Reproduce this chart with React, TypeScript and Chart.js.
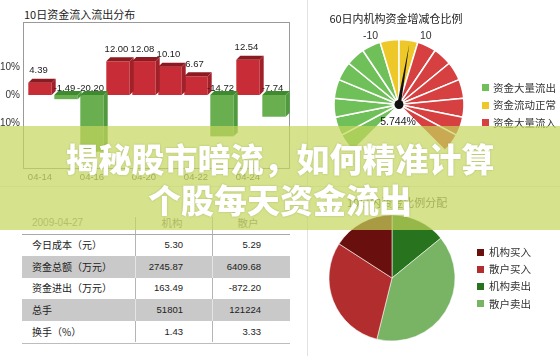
import React, { useEffect, useRef } from "react";
import { Chart, registerables } from "chart.js";

Chart.register(...registerables);

// ---------- data ----------
const flowTitle = "10日资金流入流出分布";
const flowDates = ["04-14", "04-15", "04-16", "04-17", "04-20", "04-21", "04-22", "04-23", "04-24", "04-27"];
const flowValues = [4.39, -1.49, -20.2, 12.0, 12.08, 10.1, 6.67, -14.72, 12.54, -7.74];
const flowTicks = [-10, 0, 10];

const gaugeTitle = "60日内机构资金增减仓比例";
const gaugeBounds = [-80, -70, -60, -50, -40, -30, -20, -10, 0, 10, 20, 30, 40, 50, 60, 70, 80];
const gaugeSegments = [10, 10, 10, 10, 10, 10, 10, 10, 10, 10, 10, 10, 10, 10, 10, 10];
const gaugeSegmentZone = [0, 0, 0, 0, 0, 0, 0, 1, 1, 2, 2, 2, 2, 2, 2, 2];
const gaugeZoneLabels = ["资金大量流出", "资金流动正常", "资金大量流入"];
const gaugeTickValues = [-10, 10];
const gaugeValue = 5.744;

const pieTitle = "10日内资金比例分配";
const pieLabels = ["机构买入", "散户买入", "机构卖出", "散户卖出"];
const pieValues = [1454.68, 2768.74, 1291.19, 3640.94];
const pieDrawOrder = [2, 3, 1, 0];

const tableDate = "2009-04-27";
const tableCols = ["机构", "散户"];
const tableRowLabels = ["今日成本（元）", "资金总额（万元）", "资金进出（万元）", "总手", "换手（%）"];
const tableInst = ["5.30", "2745.87", "163.49", "51801", "1.43"];
const tableRetail = ["5.29", "6409.68", "-872.20", "121224", "3.33"];

const bannerLines = ["揭秘股市暗流，如何精准计算", "个股每天资金流出"];

// ---------- styles ----------
const NUM = "'Liberation Sans', Arial, 'Noto Sans CJK SC', sans-serif";
const CJK = "'Noto Sans CJK SC', 'Liberation Sans', sans-serif";
const RED = { front: "#c82d37", top: "#8c1a20", side: "#a02129" };
const GREEN = { front: "#69af50", top: "#3e8a2e", side: "#4f9a3c" };
const gaugeZoneColors = ["#70c05a", "#eec828", "#d64040"];
const pieColors = ["#69100f", "#b22d2d", "#28731e", "#78b464"];

const framePlugin = {
  id: "frame",
  beforeDatasetsDraw(chart: any) {
    const { ctx, chartArea: a } = chart;
    ctx.save();
    ctx.strokeStyle = "#9a9a9a";
    ctx.lineWidth = 1;
    ctx.strokeRect(Math.round(a.left - 4) + 0.5, Math.round(a.top) + 0.5, Math.round(a.right - a.left + 6), Math.round(a.bottom - a.top));
    ctx.restore();
  },
};

const bar3dPlugin = {
  id: "bar3d",
  afterDatasetsDraw(chart: any) {
    const { ctx } = chart;
    const meta = chart.getDatasetMeta(0);
    const d = 4;
    ctx.save();
    meta.data.forEach((bar: any, i: number) => {
      const { x, y, base, width } = bar.getProps(["x", "y", "base", "width"], true);
      const v = flowValues[i];
      const c = v >= 0 ? RED : GREEN;
      const l = x - width / 2;
      const r = x + width / 2;
      const top = Math.min(y, base);
      const bot = Math.max(y, base);
      ctx.fillStyle = c.top;
      ctx.beginPath();
      ctx.moveTo(l, top);
      ctx.lineTo(l + d, top - d);
      ctx.lineTo(r + d, top - d);
      ctx.lineTo(r, top);
      ctx.closePath();
      ctx.fill();
      ctx.fillStyle = c.side;
      ctx.beginPath();
      ctx.moveTo(r, top);
      ctx.lineTo(r + d, top - d);
      ctx.lineTo(r + d, bot - d);
      ctx.lineTo(r, bot);
      ctx.closePath();
      ctx.fill();
      ctx.fillStyle = "#222";
      ctx.font = `9.5px ${NUM}`;
      ctx.textAlign = "center";
      ctx.textBaseline = "middle";
      ctx.fillText(v.toFixed(2), x - 1.5, v >= 0 ? y - 12 : base - 6.5);
    });
    ctx.restore();
  },
};

const gaugePlugin = {
  id: "gaugeNeedle",
  afterDatasetsDraw(chart: any) {
    const { ctx } = chart;
    const meta = chart.getDatasetMeta(0);
    const first = meta.data[0];
    const last = meta.data[meta.data.length - 1];
    const cx = first.x;
    const cy = first.y;
    const start = first.startAngle;
    const end = last.endAngle;
    const lo = gaugeBounds[0];
    const hi = gaugeBounds[gaugeBounds.length - 1];
    const toAngle = (v: number) => start + ((v - lo) / (hi - lo)) * (end - start);
    ctx.save();
    // tick labels
    ctx.fillStyle = "#333";
    ctx.font = `10.5px ${NUM}`;
    ctx.textBaseline = "middle";
    gaugeTickValues.forEach((v) => {
      const a = toAngle(v);
      ctx.textAlign = v < 0 ? "right" : "left";
      ctx.fillText(String(v), cx + Math.cos(a) * 72, cy + Math.sin(a) * 72);
    });
    // needle
    const a = toAngle(gaugeValue);
    const len = 61;
    const hw = 1.8;
    ctx.fillStyle = "#111";
    ctx.beginPath();
    ctx.moveTo(cx + Math.cos(a) * len, cy + Math.sin(a) * len);
    ctx.lineTo(cx + Math.cos(a + Math.PI / 2) * hw, cy + Math.sin(a + Math.PI / 2) * hw);
    ctx.lineTo(cx + Math.cos(a - Math.PI / 2) * hw, cy + Math.sin(a - Math.PI / 2) * hw);
    ctx.closePath();
    ctx.fill();
    ctx.beginPath();
    ctx.arc(cx, cy, 4.5, 0, Math.PI * 2);
    ctx.fill();
    // value
    ctx.fillStyle = "#222";
    ctx.font = `10.5px ${NUM}`;
    ctx.textAlign = "center";
    ctx.fillText(`${gaugeValue}%`, cx - 1, cy + 18);
    ctx.restore();
  },
};

function useChart(ref: React.RefObject<HTMLCanvasElement | null>, make: () => any) {
  useEffect(() => {
    if (!ref.current) return;
    const chart = new Chart(ref.current, make());
    return () => chart.destroy();
  }, []);
}

const base = { responsive: false, animation: false as const, devicePixelRatio: 1 };

function Legend({ items, colors, left, top, step, size, gap }: any) {
  return (
    <>
      {items.map((t: string, i: number) => (
        <div key={t} style={{ position: "absolute", left, top: top + i * step - 7, height: 14, display: "flex", alignItems: "center" }}>
          <span style={{ width: size, height: size, background: colors[i], display: "inline-block", marginRight: gap }} />
          <span style={{ font: `10.5px ${CJK}`, color: "#333", lineHeight: "14px" }}>{t}</span>
        </div>
      ))}
    </>
  );
}

export default function App() {
  const barRef = useRef<HTMLCanvasElement>(null);
  const gaugeRef = useRef<HTMLCanvasElement>(null);
  const pieRef = useRef<HTMLCanvasElement>(null);

  useChart(barRef, () => ({
    type: "bar",
    data: {
      labels: flowDates,
      datasets: [
        {
          data: flowValues,
          backgroundColor: flowValues.map((v) => (v >= 0 ? RED.front : GREEN.front)),
          borderWidth: 0,
          barPercentage: 0.9,
          categoryPercentage: 1,
        },
      ],
    },
    options: {
      ...base,
      layout: { padding: { top: 22, right: 13, bottom: 0, left: 0 } },
      plugins: { legend: { display: false }, tooltip: { enabled: false }, title: { display: false } },
      scales: {
        x: {
          grid: { display: false, drawTicks: false },
          border: { display: false },
          ticks: {
            autoSkip: false,
            maxRotation: 0,
            padding: 4,
            color: "#555",
            font: { size: 9.5, family: NUM },
            callback: (_v: any, i: number) => (i % 2 === 0 ? flowDates[i] : ""),
          },
          afterFit: (s: any) => {
            s.height = 18;
          },
        },
        y: {
          min: -26,
          max: 26,
          grid: { display: false, drawTicks: false },
          border: { display: false },
          ticks: { padding: 7, color: "#333", font: { size: 10, family: NUM }, callback: (v: any) => `${v}%` },
          afterBuildTicks: (s: any) => {
            s.ticks = flowTicks.map((value) => ({ value }));
          },
          afterFit: (s: any) => {
            s.width = 27;
          },
        },
      },
    },
    plugins: [framePlugin, bar3dPlugin],
  }));

  useChart(gaugeRef, () => ({
    type: "doughnut",
    data: {
      labels: gaugeSegments.map((_, i) => `${gaugeBounds[i]}~${gaugeBounds[i + 1]}`),
      datasets: [
        {
          data: gaugeSegments,
          backgroundColor: gaugeSegmentZone.map((z) => gaugeZoneColors[z]),
          borderColor: "#ffffff",
          borderWidth: 1.5,
        },
      ],
    },
    options: {
      ...base,
      rotation: -135,
      circumference: 270,
      cutout: 0,
      radius: 65,
      layout: { padding: 0 },
      plugins: { legend: { display: false }, tooltip: { enabled: false } },
    },
    plugins: [gaugePlugin],
  }));

  useChart(pieRef, () => ({
    type: "pie",
    data: {
      labels: pieDrawOrder.map((i) => pieLabels[i]),
      datasets: [
        {
          data: pieDrawOrder.map((i) => pieValues[i]),
          backgroundColor: pieDrawOrder.map((i) => pieColors[i]),
          borderColor: "rgba(255,255,255,0.55)",
          borderWidth: 1,
        },
      ],
    },
    options: {
      ...base,
      rotation: 0,
      radius: 63,
      layout: { padding: 0 },
      plugins: { legend: { display: false }, tooltip: { enabled: false } },
    },
  }));

  const rowTop = 233.5;
  const rowH = 21.6;

  return (
    <div style={{ position: "fixed", left: 0, top: 0, width: 560, height: 356, background: "#fff", overflow: "hidden" }}>
      {/* separators */}
      <div style={{ position: "absolute", left: 307, top: 0, width: 1, height: 356, background: "#e2e2e2" }} />
      <div style={{ position: "absolute", left: 0, top: 186, width: 560, height: 1, background: "#e6e6e6" }} />

      {/* bar chart */}
      <div style={{ position: "absolute", left: 24, top: 7, font: `11px ${CJK}`, lineHeight: "14px", color: "#222", whiteSpace: "nowrap" }}>{flowTitle}</div>
      <canvas ref={barRef} width={300} height={186} style={{ position: "absolute", left: 0, top: 0, width: 300, height: 186 }} />

      {/* gauge */}
      <div style={{ position: "absolute", left: 296, width: 200, top: 11, textAlign: "center", font: `11px ${CJK}`, lineHeight: "14px", color: "#222", whiteSpace: "nowrap" }}>{gaugeTitle}</div>
      <canvas ref={gaugeRef} width={180} height={150} style={{ position: "absolute", left: 309, top: 20, width: 180, height: 150 }} />
      <Legend items={gaugeZoneLabels} colors={gaugeZoneColors} left={482} top={87.5} step={17.5} size={7} gap={4} />

      {/* table */}
      <div style={{ position: "absolute", left: 32, top: 216, font: `10px ${NUM}`, lineHeight: "14px", color: "#8a8a8a" }}>{tableDate}</div>
      {tableCols.map((c, i) => (
        <div key={c} style={{ position: "absolute", left: i === 0 ? 152 : 228, width: 40, textAlign: "center", top: 216, font: `10.5px ${CJK}`, lineHeight: "14px", color: "#777" }}>{c}</div>
      ))}
      <div style={{ position: "absolute", left: 135, top: 217, width: 1, height: 17, background: "#b5b5b5" }} />
      <div style={{ position: "absolute", left: 212, top: 217, width: 1, height: 17, background: "#b5b5b5" }} />
      <div style={{ position: "absolute", left: 22, top: rowTop, width: 268, height: 1, background: "#a8a8a8" }} />
      {tableRowLabels.map((lab, i) => {
        const gray = i % 2 === 1;
        const top = rowTop + 1 + i * rowH;
        const sep = gray ? "#e4e4e4" : "#b5b5b5";
        return (
          <div key={lab} style={{ position: "absolute", left: 22, top, width: 268, height: rowH, background: gray ? "#c9c9c9" : "transparent" }}>
            <div style={{ position: "absolute", left: 113, top: 0, width: 1, height: rowH, background: sep }} />
            <div style={{ position: "absolute", left: 190, top: 0, width: 1, height: rowH, background: sep }} />
            <div style={{ position: "absolute", left: 10, top: rowH / 2 - 7, font: `10px ${CJK}`, lineHeight: "14px", color: "#222", whiteSpace: "nowrap" }}>{lab}</div>
            <div style={{ position: "absolute", right: 268 - 161, top: rowH / 2 - 7, font: `9.5px ${NUM}`, lineHeight: "14px", color: "#222" }}>{tableInst[i]}</div>
            <div style={{ position: "absolute", right: 268 - 239, top: rowH / 2 - 7, font: `9.5px ${NUM}`, lineHeight: "14px", color: "#222" }}>{tableRetail[i]}</div>
          </div>
        );
      })}
      <div style={{ position: "absolute", left: 22, top: rowTop + 1 + 5 * rowH, width: 268, height: 1, background: "#bdbdbd" }} />

      {/* pie */}
      <div style={{ position: "absolute", left: 347, top: 195, font: `11px ${CJK}`, lineHeight: "14px", color: "#555", whiteSpace: "nowrap" }}>{pieTitle}</div>
      <canvas ref={pieRef} width={140} height={140} style={{ position: "absolute", left: 322, top: 208, width: 140, height: 140 }} />
      <Legend items={pieLabels} colors={pieColors} left={477} top={252} step={17.2} size={7} gap={5} />

      {/* banner */}
      <div style={{ position: "absolute", left: 0, top: 126, width: 560, height: 104, background: "rgba(196,214,91,0.7)" }} />
      {bannerLines.map((t, i) => (
        <div
          key={t}
          style={{
            position: "absolute",
            left: 0,
            width: 560,
            top: i === 0 ? 138 : 179,
            textAlign: "center",
            font: `900 33px ${CJK}`,
            lineHeight: "40px",
            color: "#fff",
            whiteSpace: "nowrap",
            textShadow: "0 0 2px rgba(90,100,30,0.35)",
          }}
        >
          {t}
        </div>
      ))}
    </div>
  );
}
